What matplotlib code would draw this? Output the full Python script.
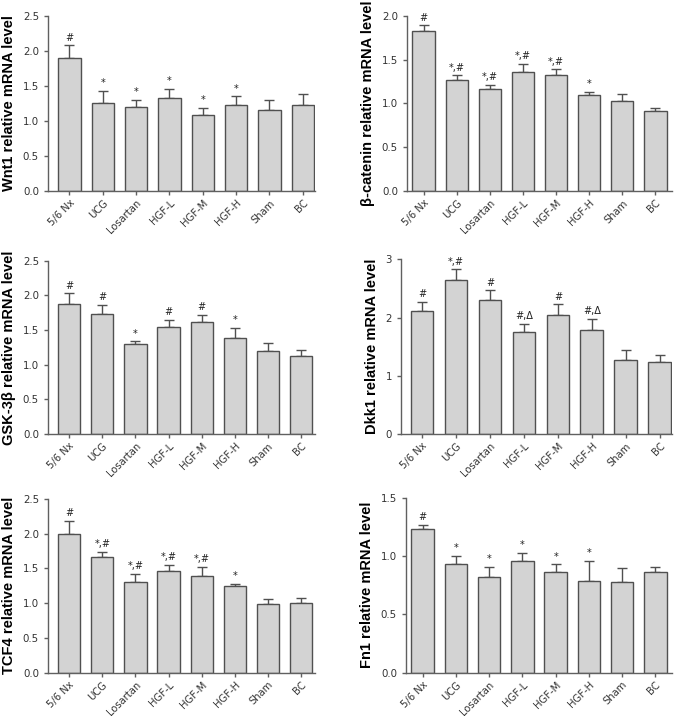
import matplotlib
matplotlib.use("Agg")
import matplotlib.pyplot as plt

plt.rcParams['font.family'] = ['Liberation Sans', 'DejaVu Sans']

groups = ["5/6 Nx", "UCG", "Losartan", "HGF-L", "HGF-M", "HGF-H", "Sham", "BC"]

wnt1_mean = [1.90, 1.25, 1.20, 1.32, 1.08, 1.23, 1.15, 1.22]
wnt1_err = [0.18, 0.18, 0.10, 0.14, 0.11, 0.12, 0.15, 0.16]
wnt1_sig = ["#", "*", "*", "*", "*", "*", "", ""]

bcat_mean = [1.82, 1.27, 1.16, 1.36, 1.32, 1.09, 1.03, 0.91]
bcat_err = [0.07, 0.05, 0.05, 0.09, 0.07, 0.04, 0.08, 0.04]
bcat_sig = ["#", "*,#", "*,#", "*,#", "*,#", "*", "", ""]

gsk_mean = [1.87, 1.73, 1.30, 1.54, 1.61, 1.39, 1.20, 1.12]
gsk_err = [0.16, 0.13, 0.04, 0.11, 0.11, 0.14, 0.11, 0.09]
gsk_sig = ["#", "#", "*", "#", "#", "*", "", ""]

dkk1_mean = [2.12, 2.64, 2.30, 1.76, 2.05, 1.79, 1.27, 1.24]
dkk1_err = [0.15, 0.19, 0.17, 0.13, 0.18, 0.19, 0.18, 0.12]
dkk1_sig = ["#", "*,#", "#", "#,\u0394", "#", "#,\u0394", "", ""]

tcf4_mean = [2.00, 1.66, 1.30, 1.46, 1.39, 1.24, 0.99, 1.00]
tcf4_err = [0.18, 0.08, 0.12, 0.09, 0.13, 0.04, 0.07, 0.08]
tcf4_sig = ["#", "*,#", "*,#", "*,#", "*,#", "*", "", ""]

fn1_mean = [1.23, 0.93, 0.82, 0.96, 0.86, 0.79, 0.78, 0.86]
fn1_err = [0.04, 0.07, 0.09, 0.07, 0.07, 0.17, 0.12, 0.05]
fn1_sig = ["#", "*", "*", "*", "*", "*", "", ""]

panels = [
    (wnt1_mean, wnt1_err, wnt1_sig, "Wnt1 relative mRNA level", 2.5, [0, 0.5, 1.0, 1.5, 2.0, 2.5], "{:.1f}",
     [48, 15.7, 315, 191], (-0.64, 7.37)),
    (bcat_mean, bcat_err, bcat_sig, "\u03b2-catenin relative mRNA level", 2.0, [0, 0.5, 1.0, 1.5, 2.0], "{:.1f}",
     [407, 15.7, 672, 191], (-0.5, 7.5)),
    (gsk_mean, gsk_err, gsk_sig, "GSK-3\u03b2 relative mRNA level", 2.5, [0, 0.5, 1.0, 1.5, 2.0, 2.5], "{:.1f}",
     [48, 260.7, 315, 434], (-0.64, 7.42)),
    (dkk1_mean, dkk1_err, dkk1_sig, "Dkk1 relative mRNA level", 3.0, [0, 1, 2, 3], "{:.0f}",
     [401, 259.3, 672, 434], (-0.62, 7.36)),
    (tcf4_mean, tcf4_err, tcf4_sig, "TCF4 relative mRNA level", 2.5, [0, 0.5, 1.0, 1.5, 2.0, 2.5], "{:.1f}",
     [48, 498.7, 315, 672.7], (-0.64, 7.42)),
    (fn1_mean, fn1_err, fn1_sig, "Fn1 relative mRNA level", 1.5, [0, 0.5, 1.0, 1.5], "{:.1f}",
     [406, 497.7, 672, 672.7], (-0.5, 7.5)),
]

W, H = 676, 716
fig = plt.figure(figsize=(W / 100, H / 100), dpi=100)

bar_color = "#d3d3d3"
edge_color = "#505050"
axis_color = "#606060"
tick_font = "DejaVu Sans"

for mean, err, sig, ylabel, ymax, yticks, fmt, box, xlim in panels:
    x0, y0, x1, y1 = box
    ax = fig.add_axes([x0 / W, 1 - y1 / H, (x1 - x0) / W, (y1 - y0) / H])
    xs = list(range(len(groups)))
    ax.bar(xs, mean, width=0.67, color=bar_color, edgecolor=edge_color, linewidth=1.0, zorder=2)
    ax.errorbar(xs, mean, yerr=[[0] * len(err), err], fmt="none", ecolor=edge_color,
                elinewidth=1.0, capsize=3.5, capthick=1.0, zorder=1)
    for xi, m, e, s in zip(xs, mean, err, sig):
        if s:
            ax.text(xi, m + e + ymax * 0.015, s, ha="center", va="bottom", fontsize=7,
                    family=tick_font, color="#222222", clip_on=False)
    ax.set_xlim(*xlim)
    ax.set_ylim(0, ymax)
    ax.set_yticks(yticks)
    ax.set_yticklabels([fmt.format(v) for v in yticks], fontsize=7.4, family=tick_font, color="#333333")
    ax.set_xticks(xs)
    ax.set_xticklabels(groups, rotation=45, ha="right", rotation_mode="anchor", fontsize=7.2,
                       family=tick_font, color="#333333")
    ax.set_ylabel(ylabel, fontsize=10.5, fontweight="bold", labelpad=5)
    for side in ("top", "right"):
        ax.spines[side].set_visible(False)
    for side in ("left", "bottom"):
        ax.spines[side].set_color(axis_color)
        ax.spines[side].set_linewidth(1.0)
    ax.tick_params(axis="both", colors=axis_color, length=3, width=1.0, labelcolor="#333333")
    ax.tick_params(axis="x", pad=2)

fig.savefig("out.png", dpi=100, facecolor="white")
